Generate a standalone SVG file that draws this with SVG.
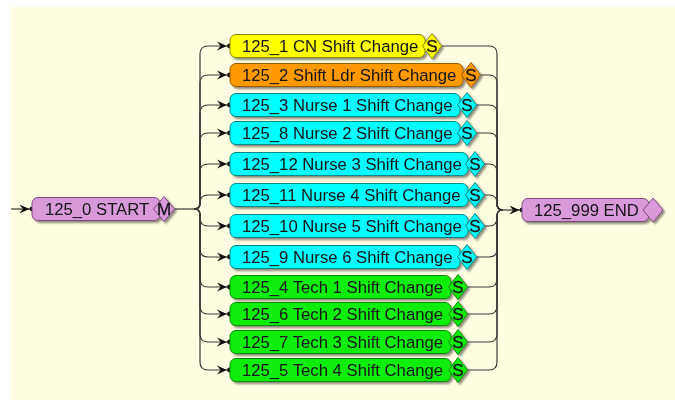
<svg xmlns="http://www.w3.org/2000/svg" width="675" height="400" viewBox="0 0 675 400">
  <defs>
    <style>
      .bg { fill: #FFFDE1; }
      .lbl { font-family: "Liberation Sans", Arial, sans-serif; font-size: 16.7px; fill: #151515; }
      .tag { font-family: "Liberation Sans", Arial, sans-serif; font-size: 17px; fill: #151515; text-anchor: middle; stroke: #151515; stroke-width: 0.3; }
      .node { filter: url(#shadow); }
      .node rect, .node polygon { stroke-width: 1; }
      .yellow rect, .yellow polygon { fill: #FFFF00; stroke: #8C8C00; }
      .orange rect, .orange polygon { fill: #FF9900; stroke: #9A5A00; }
      .cyan rect, .cyan polygon { fill: #00FFFF; stroke: #008A8A; }
      .green rect, .green polygon { fill: #11EE11; stroke: #0A8A0A; }
      .plum rect, .plum polygon { fill: #DA9ADA; stroke: #7A4A7A; }
      .wire { fill: none; stroke: #3A3A3A; stroke-width: 1.2; }
      .arrow { marker-end: url(#dart); }
    </style>
    <filter id="shadow" x="-10%" y="-30%" width="120%" height="160%">
      <feDropShadow dx="2" dy="2" stdDeviation="0.8" flood-color="#000" flood-opacity="0.45"/>
    </filter>
    <marker id="dart" markerUnits="userSpaceOnUse" markerWidth="15" markerHeight="10" viewBox="0 0 15 10" refX="12.5" refY="5" orient="auto">
      <path d="M0,0.5 L10,5 L0,9.5 L3.5,5 Z" fill="#111"/>
      <circle cx="12.5" cy="5" r="2.4" fill="#111"/>
    </marker>
  </defs>

  <rect class="bg" x="11" y="7" width="664" height="393"/>

  <!-- connectors -->
  <g id="connectors">
    <path class="wire arrow" d="M11,209 L32,209"/>
    <path class="wire" d="M174.5,209 L194,209"/>
    <!-- fan-out from START -->
    <path class="wire arrow" d="M194,209 Q200,209 200,203 L200,54 Q200,46 208,46 L229.5,46"/>
    <path class="wire arrow" d="M194,209 Q200,209 200,203 L200,83 Q200,75 208,75 L229.5,75"/>
    <path class="wire arrow" d="M194,209 Q200,209 200,203 L200,113 Q200,105 208,105 L229.5,105"/>
    <path class="wire arrow" d="M194,209 Q200,209 200,203 L200,141 Q200,133 208,133 L229.5,133"/>
    <path class="wire arrow" d="M194,209 Q200,209 200,203 L200,172 Q200,164 208,164 L229.5,164"/>
    <path class="wire arrow" d="M194,209 Q200,209 200,203 Q200,195 208,195 L229.5,195"/>
    <path class="wire arrow" d="M194,209 Q200,209 200,215 L200,218 Q200,226 208,226 L229.5,226"/>
    <path class="wire arrow" d="M194,209 Q200,209 200,215 L200,249 Q200,257 208,257 L229.5,257"/>
    <path class="wire arrow" d="M194,209 Q200,209 200,215 L200,279 Q200,287 208,287 L229.5,287"/>
    <path class="wire arrow" d="M194,209 Q200,209 200,215 L200,306 Q200,314 208,314 L229.5,314"/>
    <path class="wire arrow" d="M194,209 Q200,209 200,215 L200,334 Q200,342 208,342 L229.5,342"/>
    <path class="wire arrow" d="M194,209 Q200,209 200,215 L200,362 Q200,370 208,370 L229.5,370"/>
    <!-- fan-in to END -->
    <path class="wire" d="M441.5,46 L489,46 Q497,46 497,54 L497,204 Q497,210 503,210"/>
    <path class="wire" d="M480.5,75 L489,75 Q497,75 497,83 L497,204 Q497,210 503,210"/>
    <path class="wire" d="M476.5,105 L489,105 Q497,105 497,113 L497,204 Q497,210 503,210"/>
    <path class="wire" d="M476.5,133 L489,133 Q497,133 497,141 L497,204 Q497,210 503,210"/>
    <path class="wire" d="M484.5,164 L489,164 Q497,164 497,172 L497,204 Q497,210 503,210"/>
    <path class="wire" d="M484.5,195 L489,195 Q497,195 497,203 L497,204 Q497,210 503,210"/>
    <path class="wire" d="M484.5,226 L489,226 Q497,226 497,218 L497,216 Q497,210 503,210"/>
    <path class="wire" d="M476.5,257 L489,257 Q497,257 497,249 L497,216 Q497,210 503,210"/>
    <path class="wire" d="M467.5,287 L489,287 Q497,287 497,279 L497,216 Q497,210 503,210"/>
    <path class="wire" d="M467.5,314 L489,314 Q497,314 497,306 L497,216 Q497,210 503,210"/>
    <path class="wire" d="M467.5,342 L489,342 Q497,342 497,334 L497,216 Q497,210 503,210"/>
    <path class="wire" d="M467.5,370 L489,370 Q497,370 497,362 L497,216 Q497,210 503,210"/>
    <path class="wire arrow" d="M503,210 L522,210"/>
  </g>

  <!-- start / end -->
  <g id="n125_0" class="node plum">
    <rect x="32" y="197.5" width="128" height="23" rx="6"/>
    <polygon points="153.5,209 164,196.5 174.5,209 164,221.5"/>
    <text class="lbl" x="45" y="215">125_0 START</text>
    <text class="tag" x="164" y="215">M</text>
  </g>
  <g id="n125_999" class="node plum">
    <rect x="522" y="198.5" width="127" height="23" rx="6"/>
    <polygon points="643,210 653,198 663,210 653,222"/>
    <text class="lbl" x="534" y="216">125_999 END</text>
  </g>

  <!-- shift change tasks -->
  <g id="n125_1" class="node yellow">
    <rect x="230" y="34.5" width="195" height="23" rx="6"/>
    <polygon points="422.5,46 432,33.5 441.5,46 432,58.5"/>
    <text class="lbl" x="242" y="52">125_1 CN Shift Change</text>
    <text class="tag" x="432" y="52">S</text>
  </g>
  <g id="n125_2" class="node orange">
    <rect x="230" y="63.5" width="233" height="23" rx="6"/>
    <polygon points="461.5,75 471,62.5 480.5,75 471,87.5"/>
    <text class="lbl" x="242" y="81">125_2 Shift Ldr Shift Change</text>
    <text class="tag" x="471" y="81">S</text>
  </g>
  <g id="n125_3" class="node cyan">
    <rect x="230" y="93.5" width="230" height="23" rx="6"/>
    <polygon points="457.5,105 467,92.5 476.5,105 467,117.5"/>
    <text class="lbl" x="242" y="111">125_3 Nurse 1 Shift Change</text>
    <text class="tag" x="467" y="111">S</text>
  </g>
  <g id="n125_8" class="node cyan">
    <rect x="230" y="121.5" width="230" height="23" rx="6"/>
    <polygon points="457.5,133 467,120.5 476.5,133 467,145.5"/>
    <text class="lbl" x="242" y="139">125_8 Nurse 2 Shift Change</text>
    <text class="tag" x="467" y="139">S</text>
  </g>
  <g id="n125_12" class="node cyan">
    <rect x="230" y="152.5" width="238" height="23" rx="6"/>
    <polygon points="465.5,164 475,151.5 484.5,164 475,176.5"/>
    <text class="lbl" x="242" y="170">125_12 Nurse 3 Shift Change</text>
    <text class="tag" x="475" y="170">S</text>
  </g>
  <g id="n125_11" class="node cyan">
    <rect x="230" y="183.5" width="238" height="23" rx="6"/>
    <polygon points="465.5,195 475,182.5 484.5,195 475,207.5"/>
    <text class="lbl" x="242" y="201">125_11 Nurse 4 Shift Change</text>
    <text class="tag" x="475" y="201">S</text>
  </g>
  <g id="n125_10" class="node cyan">
    <rect x="230" y="214.5" width="238" height="23" rx="6"/>
    <polygon points="465.5,226 475,213.5 484.5,226 475,238.5"/>
    <text class="lbl" x="242" y="232">125_10 Nurse 5 Shift Change</text>
    <text class="tag" x="475" y="232">S</text>
  </g>
  <g id="n125_9" class="node cyan">
    <rect x="230" y="245.5" width="230" height="23" rx="6"/>
    <polygon points="457.5,257 467,244.5 476.5,257 467,269.5"/>
    <text class="lbl" x="242" y="263">125_9 Nurse 6 Shift Change</text>
    <text class="tag" x="467" y="263">S</text>
  </g>
  <g id="n125_4" class="node green">
    <rect x="230" y="275.5" width="221" height="23" rx="6"/>
    <polygon points="448.5,287 458,274.5 467.5,287 458,299.5"/>
    <text class="lbl" x="242" y="293">125_4 Tech 1 Shift Change</text>
    <text class="tag" x="458" y="293">S</text>
  </g>
  <g id="n125_6" class="node green">
    <rect x="230" y="302.5" width="221" height="23" rx="6"/>
    <polygon points="448.5,314 458,301.5 467.5,314 458,326.5"/>
    <text class="lbl" x="242" y="320">125_6 Tech 2 Shift Change</text>
    <text class="tag" x="458" y="320">S</text>
  </g>
  <g id="n125_7" class="node green">
    <rect x="230" y="330.5" width="221" height="23" rx="6"/>
    <polygon points="448.5,342 458,329.5 467.5,342 458,354.5"/>
    <text class="lbl" x="242" y="348">125_7 Tech 3 Shift Change</text>
    <text class="tag" x="458" y="348">S</text>
  </g>
  <g id="n125_5" class="node green">
    <rect x="230" y="358.5" width="221" height="23" rx="6"/>
    <polygon points="448.5,370 458,357.5 467.5,370 458,382.5"/>
    <text class="lbl" x="242" y="376">125_5 Tech 4 Shift Change</text>
    <text class="tag" x="458" y="376">S</text>
  </g>
</svg>
